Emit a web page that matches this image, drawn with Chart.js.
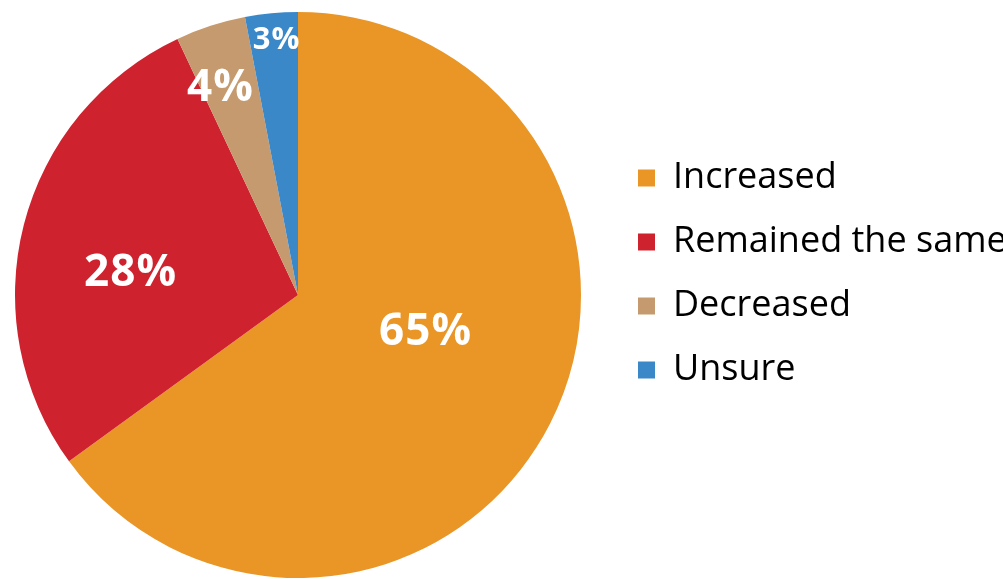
<!DOCTYPE html>
<html>
<head>
<meta charset="utf-8">
<script src="https://cdn.jsdelivr.net/npm/chart.js@4/dist/chart.umd.min.js"></script>
<style>
  html, body { margin: 0; padding: 0; background: #ffffff; overflow: hidden; }
  #wrap { width: 1003px; height: 579px; position: relative; }
</style>
</head>
<body>
<div id="wrap"><canvas id="c"></canvas></div>
<script>
// ---- data ----
const categories = ['Increased', 'Remained the same', 'Decreased', 'Unsure'];
const values = [65, 28, 4, 3];
const valueLabels = ['65%', '28%', '4%', '3%'];
const sliceColors = ['#E99627', '#CE232F', '#C59A6E', '#3B88C9'];

// draws the white percentage labels inside the slices, from the arc geometry
const sliceLabels = {
  id: 'sliceLabels',
  afterDatasetsDraw(chart, args, opts) {
    const ctx = chart.ctx;
    const meta = chart.getDatasetMeta(0);
    meta.data.forEach((arc, i) => {
      const p = arc.getProps(['x', 'y', 'startAngle', 'endAngle', 'outerRadius'], true);
      const a = p.startAngle + (p.endAngle - p.startAngle) * opts.angleFrac[i];
      const r = p.outerRadius * opts.radiusFrac[i];
      const size = opts.sizes[i];
      const ls = opts.spacing[i];
      ctx.save();
      ctx.font = 'bold ' + size + 'px "Open Sans"';
      if ('letterSpacing' in ctx) ctx.letterSpacing = ls + 'px';
      ctx.fillStyle = '#ffffff';
      ctx.textAlign = 'center';
      ctx.textBaseline = 'alphabetic';
      ctx.fillText(valueLabels[i], p.x + Math.cos(a) * r + ls / 2, p.y + Math.sin(a) * r + size * 0.357);
      ctx.restore();
    });
  }
};

// nudges the legend block and the plot area so they sit where the reference has them
const layoutShift = {
  id: 'layoutShift',
  afterLayout(chart, args, opts) {
    const lg = chart.legend;
    if (lg) {
      lg.top += opts.legendDy;
      lg.bottom += opts.legendDy;
    }
    const ca = chart.chartArea;
    ca.left += opts.areaDx;
    ca.right += opts.areaDx;
  }
};

new Chart(document.getElementById('c'), {
  type: 'pie',
  data: {
    labels: categories,
    datasets: [{
      data: values,
      backgroundColor: sliceColors,
      borderWidth: 0,
      hoverOffset: 0
    }]
  },
  options: {
    responsive: true,
    maintainAspectRatio: false,
    animation: false,
    devicePixelRatio: 1,
    events: [],
    layout: { padding: { left: 0, right: 0, top: 12, bottom: 1 } },
    plugins: {
      tooltip: { enabled: false },
      legend: {
        position: 'right',
        maxWidth: 393,
        labels: {
          color: '#000000',
          font: { family: '"Open Sans"', size: 36 },
          boxWidth: 17,
          boxHeight: 17,
          padding: 28
        }
      },
      layoutShift: { legendDy: -21, areaDx: -7 },
      sliceLabels: {
        angleFrac: [0.449, 0.441, 0.33, 0.55],
        radiusFrac: [0.465, 0.60, 0.789, 0.911],
        sizes: [44, 44, 44, 31],
        spacing: [1, 1, 1, 1]
      }
    }
  },
  plugins: [sliceLabels, layoutShift]
});
</script>
</body>
</html>
